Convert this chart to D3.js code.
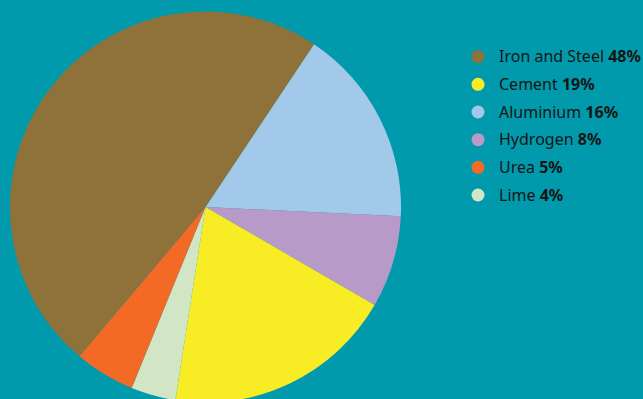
<!DOCTYPE html>
<html><head><meta charset="utf-8">
<script src="https://cdn.jsdelivr.net/npm/d3@7"></script>
<style>html,body{margin:0;padding:0;background:#009aac;overflow:hidden}</style>
</head><body>
<svg id="c" width="643" height="399"></svg>
<script>
const categories = ["Aluminium","Hydrogen","Cement","Lime","Urea","Iron and Steel"];
const values = [16.4, 7.6, 19.1, 3.7, 5.0, 48.2];
const labels = ["16%","8%","19%","4%","5%","48%"];
const colors = ["#a3c9ea","#b89ac8","#f8ec25","#d2e6c6","#f26a25","#8f723a"];
const legendOrder = ["Iron and Steel","Cement","Aluminium","Hydrogen","Urea","Lime"];

const svg = d3.select("#c");
const cx = 205.5, cy = 207, r = 195.5;
const startDeg = 33.7;
const pie = d3.pie().sort(null).value(d => d.v)
  .startAngle(startDeg*Math.PI/180).endAngle((startDeg+360)*Math.PI/180);
const data = categories.map((c,i)=>({c, v: values[i], lab: labels[i], col: colors[i]}));
const arc = d3.arc().innerRadius(0).outerRadius(r);
svg.append("g").attr("transform",`translate(${cx},${cy})`)
  .selectAll("path").data(pie(data)).join("path")
  .attr("d", arc).attr("fill", d=>d.data.col);

const byName = new Map(data.map(d=>[d.c,d]));
const y = d3.scalePoint().domain(legendOrder).range([56.7, 195]);
const lg = svg.append("g");
const rows = lg.selectAll("g").data(legendOrder).join("g")
  .attr("transform", d=>`translate(478,${y(d)})`);
rows.append("circle").attr("r",6.5).attr("fill", d=>byName.get(d).col);
const t = rows.append("text").attr("x",21).attr("dy","0.36em")
  .attr("font-family","'Noto Sans', sans-serif").attr("font-size",16)
  .attr("fill","#151515");
t.append("tspan").text(d=>d+" ");
t.append("tspan").attr("font-weight","bold").text(d=>byName.get(d).lab);
</script>
</body></html>
